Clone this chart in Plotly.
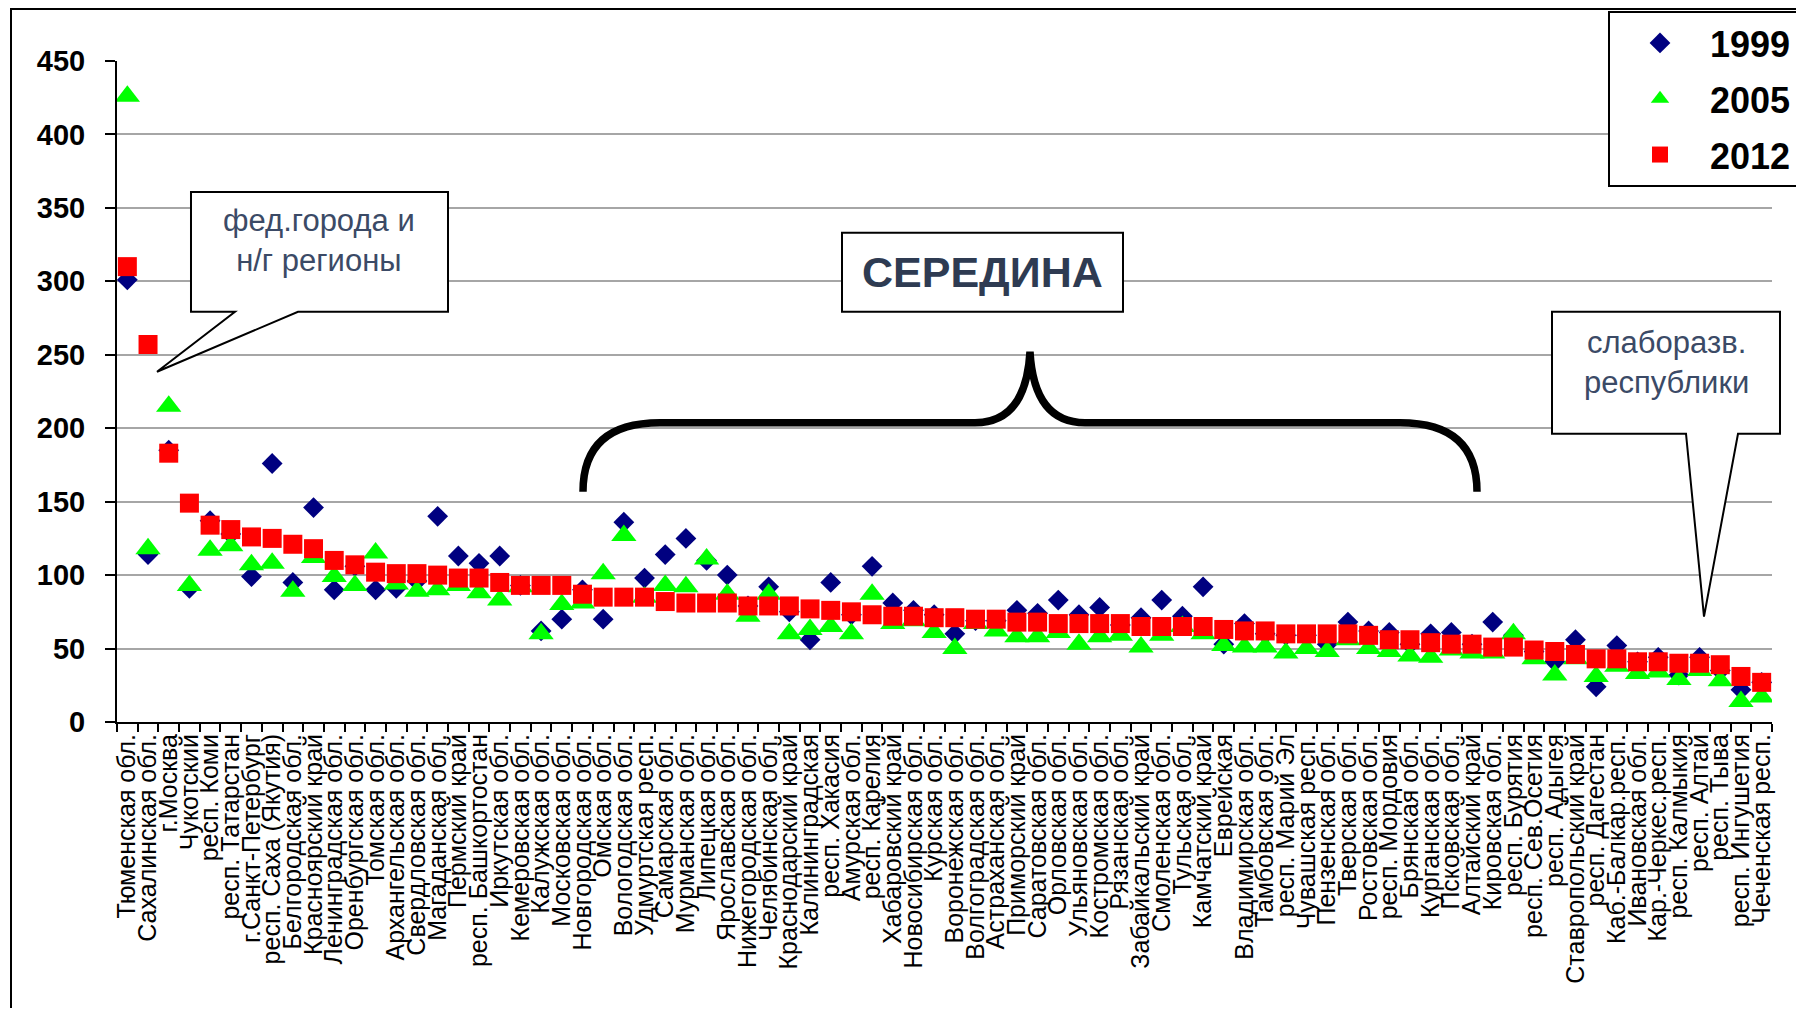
import plotly.graph_objects as go

regions = [
    "Тюменская обл.", "Сахалинская обл.", "г.Москва", "Чукотский", "респ. Коми",
    "респ. Татарстан", "г.Санкт-Петербург", "респ. Саха (Якутия)", "Белгородская обл.",
    "Красноярский край", "Ленинградская обл.", "Оренбургская обл.", "Томская обл.",
    "Архангельская обл.", "Свердловская обл.", "Магаданская обл.", "Пермский край",
    "респ. Башкортостан", "Иркутская обл.", "Кемеровская обл.", "Калужская обл.",
    "Московская обл.", "Новгородская обл.", "Омская обл.", "Вологодская обл.",
    "Удмуртская респ.", "Самарская обл.", "Мурманская обл.", "Липецкая обл.",
    "Ярославская обл.", "Нижегородская обл.", "Челябинская обл.", "Краснодарский край",
    "Калининградская", "респ. Хакасия", "Амурская обл.", "респ. Карелия",
    "Хабаровский край", "Новосибирская обл.", "Курская обл.", "Воронежская обл.",
    "Волгоградская обл.", "Астраханская обл.", "Приморский край", "Саратовская обл.",
    "Орловская обл.", "Ульяновская обл.", "Костромская обл.", "Рязанская обл.",
    "Забайкальский край", "Смоленская обл.", "Тульская обл.", "Камчатский край",
    "Еврейская", "Владимирская обл.", "Тамбовская обл.", "респ. Марий Эл",
    "Чувашская респ.", "Пензенская обл.", "Тверская обл.", "Ростовская обл.",
    "респ. Мордовия", "Брянская обл.", "Курганская обл.", "Псковская обл.",
    "Алтайский край", "Кировская обл.", "респ. Бурятия", "респ. Сев.Осетия",
    "респ. Адыгея", "Ставропольский край", "респ. Дагестан", "Каб.-Балкар.респ.",
    "Ивановская обл.", "Кар.-Черкес.респ.", "респ. Калмыкия", "респ. Алтай",
    "респ. Тыва", "респ. Ингушетия", "Чеченская респ.",
]

y1999 = [301, 114, 185, 91, 137, 128, 99, 176, 95, 146,
         90, 106, 90, 91, 96, 140, 113, 108, 113, 93,
         62, 70, 90, 70, 136, 98, 114, 125, 110, 100,
         79, 92, 75, 56, 95, 73, 106, 81, 76, 73,
         60, 69, 69, 76, 74, 83, 73, 78, 66, 71,
         83, 72, 92, 53, 67, 60, 59, 59, 53, 68,
         62, 61, 53, 60, 61, 53, 68, 59, 48, 41,
         56, 24, 52, 41, 44, 32, 44, 35, 22, 27]

y2005 = [426, 118, 215, 93, 117, 120, 107, 108, 89, 112,
         99, 93, 115, 94, 89, 90, 93, 88, 83, 92,
         60, 80, 81, 101, 127, 85, 93, 92, 111, 87,
         72, 87, 60, 63, 65, 60, 87, 67, 69, 61,
         50, 67, 62, 58, 58, 61, 53, 58, 59, 51,
         59, 65, 60, 52, 51, 51, 47, 50, 48, 56,
         50, 48, 45, 44, 49, 47, 47, 60, 43, 32,
         43, 31, 38, 33, 34, 29, 35, 28, 14, 17]

y2012 = [310, 257, 183, 149, 134, 131, 126, 125, 121, 118,
         110, 107, 102, 101, 101, 100, 98, 98, 95, 93,
         93, 93, 87, 85, 85, 85, 82, 81, 81, 81,
         79, 79, 79, 77, 76, 75, 73, 72, 72, 71,
         71, 70, 70, 68, 68, 67, 67, 67, 67, 65,
         65, 65, 65, 63, 62, 62, 60, 60, 60, 60,
         59, 56, 56, 54, 53, 53, 51, 51, 49, 48,
         46, 43, 43, 41, 41, 40, 40, 39, 31, 27]

# page has an 8px body margin; plot area in page pixels
OFF = 8
FW, FH = 1790, 1000
PL, PR, PT, PB = 117, 1772, 61, 722.5
PW, PH = PR - PL, PB - PT
FONT = "Liberation Sans, Arial, sans-serif"
TXT = "#3B4A66"
NB = "\u00a0"


def fx(p):
    return (p - PL) / PW


def fy(p):
    return (PB - p) / PH


def path(points):
    return "M " + " L ".join(f"{fx(x):.5f},{fy(y):.5f}" for x, y in points) + " Z"


fig = go.Figure()
fig.add_trace(go.Scatter(x=regions, y=y1999, mode="markers", name=NB * 3 + "1999",
                         legendgroup="a",
                         marker=dict(symbol="diamond", size=16, color="#000080")))
fig.add_trace(go.Scatter(x=regions, y=y2005, mode="markers", name=NB * 3 + "2005",
                         legendgroup="b",
                         marker=dict(symbol="triangle-up", size=22, color="#00FF00")))
fig.add_trace(go.Scatter(x=regions, y=y2012, mode="markers", name=NB * 3 + "2012",
                         legendgroup="c",
                         marker=dict(symbol="square", size=19, color="#FF0000")))

shapes = []
# outer frame
shapes.append(dict(type="rect", xref="paper", yref="paper",
                   x0=fx(11), y0=fy(1040), x1=fx(1840), y1=fy(9),
                   line=dict(color="black", width=2)))
# callout: fed. cities
shapes.append(dict(type="path", xref="paper", yref="paper",
                   path=path([(191, 192), (448, 192), (448, 312), (298, 312),
                              (157, 372), (235, 312), (191, 312)]),
                   fillcolor="white", line=dict(color="black", width=2)))
# callout: weak republics
shapes.append(dict(type="path", xref="paper", yref="paper",
                   path=path([(1552, 312), (1780, 312), (1780, 434), (1738, 434),
                              (1704, 617), (1686, 434), (1552, 434)]),
                   fillcolor="white", line=dict(color="black", width=2)))
# middle box
shapes.append(dict(type="rect", xref="paper", yref="paper",
                   x0=fx(842), y0=fy(312), x1=fx(1123), y1=fy(233),
                   fillcolor="white", line=dict(color="black", width=2)))
# curly brace
b = [(583, 492), (583, 423), (660, 423), (975, 423), (1026, 423), (1030, 352),
     (1034, 423), (1085, 423), (1400, 423), (1477, 423), (1477, 492)]
bp = [(fx(x), fy(y)) for x, y in b]
brace = (f"M {bp[0][0]},{bp[0][1]} Q {bp[1][0]},{bp[1][1]} {bp[2][0]},{bp[2][1]} "
         f"L {bp[3][0]},{bp[3][1]} Q {bp[4][0]},{bp[4][1]} {bp[5][0]},{bp[5][1]} "
         f"Q {bp[6][0]},{bp[6][1]} {bp[7][0]},{bp[7][1]} "
         f"L {bp[8][0]},{bp[8][1]} Q {bp[9][0]},{bp[9][1]} {bp[10][0]},{bp[10][1]}")
shapes.append(dict(type="path", xref="paper", yref="paper", path=brace,
                   line=dict(color="black", width=7.5)))

annotations = [
    dict(x=fx(319), y=fy(241), text="фед.города и<br>н/г регионы",
         font=dict(size=31, color=TXT, family=FONT)),
    dict(x=fx(1666), y=fy(363), text="слаборазв.<br>республики",
         font=dict(size=31, color=TXT, family=FONT)),
    dict(x=fx(982), y=fy(272), text="<b>СЕРЕДИНА</b>",
         font=dict(size=43, color="#2E3B52", family=FONT)),
]
for a in annotations:
    a.update(xref="paper", yref="paper", showarrow=False,
             xanchor="center", yanchor="middle")

fig.update_layout(
    width=FW, height=FH,
    margin=dict(l=PL - OFF, r=FW - (PR - OFF), t=PT - OFF, b=FH - (PB - OFF),
                autoexpand=False),
    paper_bgcolor="white", plot_bgcolor="white",
    font=dict(family=FONT, color="black"),
    shapes=shapes, annotations=annotations,
    showlegend=True,
    legend=dict(x=fx(1608), y=fy(11), xanchor="left", yanchor="top",
                bgcolor="white", bordercolor="black", borderwidth=2,
                font=dict(size=36, weight="bold", family=FONT),
                tracegroupgap=6, itemsizing="trace", indentation=30),
)
fig.update_xaxes(type="category", range=[-0.5, len(regions) - 0.5],
                 tickmode="linear", dtick=1, tickangle=-90,
                 tickson="boundaries", ticks="outside", ticklen=8, tickwidth=2,
                 tickcolor="black", showline=True, linecolor="black", linewidth=2,
                 showgrid=False, tickfont=dict(size=25, family=FONT))
fig.update_yaxes(range=[0, 450], dtick=50, ticks="outside", ticklen=10, tickwidth=2,
                 tickcolor="black", showline=True, linecolor="black", linewidth=2,
                 showgrid=True, gridcolor="#A6A6A6", gridwidth=1.5, zeroline=False,
                 ticklabelstandoff=14,
                 tickfont=dict(size=29, weight="bold", family=FONT))

fig.write_html("out.html")
